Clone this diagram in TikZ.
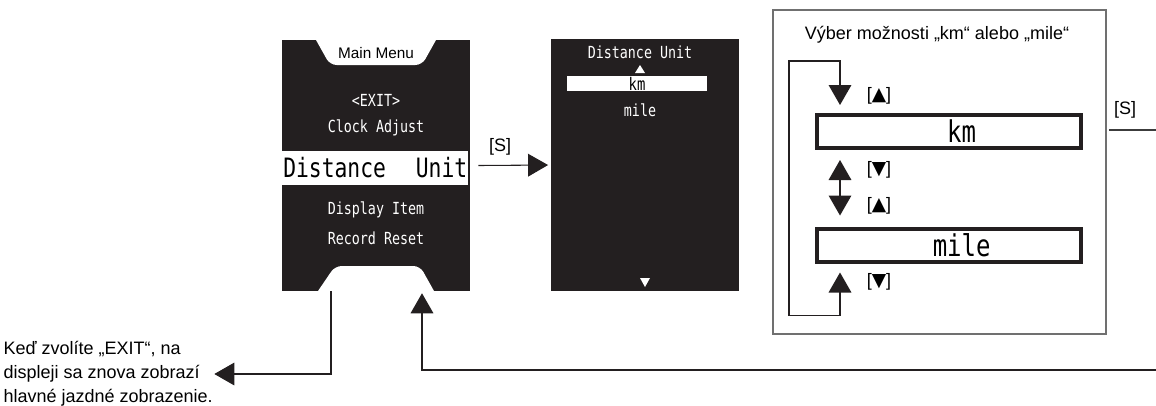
\documentclass[tikz,border=0pt]{standalone}
\usepackage{fontspec}
\setmainfont{Liberation Sans}
\newfontfamily\lcdfont[FakeStretch=0.8]{DejaVu Sans Mono}
\newfontfamily\symfont{DejaVu Sans}
\usepackage{xcolor}
\usetikzlibrary{arrows.meta,positioning,calc}
\definecolor{lcdblack}{HTML}{231F20}
\definecolor{linegray}{HTML}{3C3C3C}
\definecolor{panelgray}{HTML}{707070}
\newcommand{\keyup}{[{\symfont\fontsize{14}{14}\selectfont ▲}]}
\newcommand{\keydown}{[{\symfont\fontsize{14}{14}\selectfont ▼}]}

\begin{document}
\begin{tikzpicture}[
    x=0.75pt, y=-0.75pt,
    screen/.style={rectangle, fill=lcdblack, inner sep=0pt, minimum width=141pt, minimum height=188.25pt},
    lcd/.style={text=white, font=\lcdfont\fontsize{12.5}{12.5}\selectfont, inner sep=1pt},
    optbox/.style={rectangle, draw=lcdblack, line width=3pt, fill=white, minimum width=198pt, minimum height=24.75pt, inner sep=0pt, font=\lcdfont\fontsize{22.5}{22.5}\selectfont},
    note/.style={font=\fontsize{13.5}{18}\selectfont, inner sep=1pt},
    conn/.style={line width=0.8pt, draw=linegray},
    arrow/.style={-{Triangle[length=15pt, width=17pt]}, line width=0.8pt, color=lcdblack},
    darrow/.style={{Triangle[length=15pt, width=17pt]}-{Triangle[length=15pt, width=17pt]}, line width=0.8pt, color=lcdblack}
]
\useasboundingbox (0,0) rectangle (1156,405);

% main menu screen
\node[screen] (mainscr) at (376,165.5) {};
\fill[white] (316,40) [rounded corners=5pt] -- (330,65) -- (422,65) [sharp corners] -- (436,40) -- cycle;
\fill[white] (318,291) [rounded corners=5pt] -- (335,266) -- (420,266) [sharp corners] -- (434,291) -- cycle;
\node[font=\fontsize{11.5}{12}\selectfont, inner sep=0pt] (menutitle) at (376,53) {Main Menu};
\node[lcd] (exititem) at (376,100) {<EXIT>};
\node[lcd] (clockitem) at (376,128) {Clock Adjust};
\node[fill=white, text=black, inner sep=0pt, minimum width=139.5pt, minimum height=25.5pt, anchor=west,
      font=\lcdfont\fontsize{20}{20}\selectfont] (distitem) at (282,168) {\makebox[138pt]{Distance\hfill Unit}};
\node[lcd] (dispitem) at (376,210) {Display Item};
\node[lcd] (resetitem) at (376,238) {Record Reset};

% unit screen
\node[screen, minimum height=189pt] (optscr) at (645,165) {};
\node[lcd] (opttitle) at (640,52) {Distance Unit};
\fill[white] (635,73) -- (645,73) -- (640,65) -- cycle;
\node[fill=white, text=black, inner sep=0pt, minimum width=105pt, minimum height=11.25pt,
      font=\lcdfont\fontsize{13}{13}\selectfont] (kmsel) at (637,83.5) {km};
\node[lcd] (milesel) at (640,110) {mile};
\fill[white] (640,278) -- (650,278) -- (645,287) -- cycle;

\draw[arrow, shorten >=2pt] ([xshift=6pt]mainscr.east) -- (optscr.west);
\node[note] (skey) at (500,147) {[S]};

% selection panel
\node[draw=panelgray, line width=1.1pt, minimum width=249.75pt, minimum height=243pt, inner sep=0pt] (panel) at (939.5,172) {};
\node[note] (paneltitle) at (937,35) {Výber možnosti „km“ alebo „mile“};
\node[optbox] (kmopt) at (949,131.5) {\hspace{19pt}km};
\node[optbox] (mileopt) at (949,245) {\hspace{19pt}mile};
\node[note] (upa) at (879,96) {\keyup};
\node[note] (dna) at (879,170) {\keydown};
\node[note] (upb) at (879,206) {\keyup};
\node[note] (dnb) at (879,282) {\keydown};

\coordinate (loopbot) at ($(mileopt.south west)+(25,52)$);
\coordinate (looptop) at ($(kmopt.north west)+(25,-52)$);
\draw[darrow] ($(mileopt.south west)+(25,9)$) -- (loopbot) -- ++(-51,0) |- (looptop) -- ($(kmopt.north west)+(25,-8)$);
\draw[darrow] ($(kmopt.south west)+(25,10)$) -- ($(mileopt.north west)+(25,-11)$);

% leaving and returning
\node[note] (skeyb) at (1125,110) {[S]};
\coordinate (rightout) at (1156,130);
\coordinate (returnin) at (1156,370);
\draw[conn, shorten <=2pt] (panel.east |- rightout) -- (rightout);
\draw[arrow, shorten >=1.5pt] (returnin) -| ($(mainscr.south)+(46,0)$);

\node[note, align=left, anchor=west] (exitnote) at (2,374) {Keď zvolíte „EXIT“, na\\displeji sa znova zobrazí\\hlavné jazdné zobrazenie.};
\draw[arrow] ($(mainscr.south)+(-45,0)$) |- (exitnote.east);
\end{tikzpicture}
\end{document}
